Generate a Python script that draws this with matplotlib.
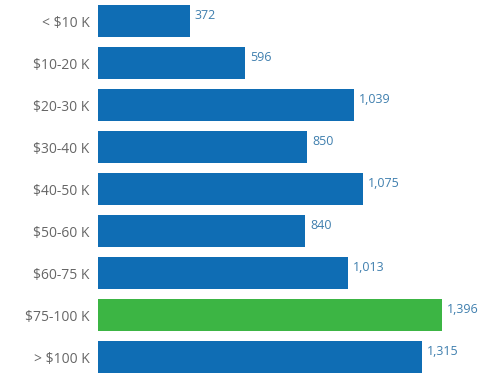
import matplotlib.pyplot as plt

# data
categories = ['< $10 K', '$10-20 K', '$20-30 K', '$30-40 K', '$40-50 K',
              '$50-60 K', '$60-75 K', '$75-100 K', '> $100 K']
values = [372, 596, 1039, 850, 1075, 840, 1013, 1396, 1315]
value_labels = ['372', '596', '1,039', '850', '1,075', '840', '1,013', '1,396', '1,315']
highlight = '$75-100 K'

blue = '#0f6db4'
green = '#3cb544'
colors = [green if c == highlight else blue for c in categories]

fig = plt.figure(figsize=(4.91, 3.73), dpi=100)
ax = fig.add_axes([98 / 491, -5 / 373, 393 / 491, 378 / 373])

y = list(range(len(categories)))
ax.barh(y, values, height=0.78, color=colors)
ax.set_ylim(len(categories) - 0.5, -0.5)
ax.set_xlim(0, 1595)

for yi, v, lab in zip(y, values, value_labels):
    ax.text(v + 20, yi - 0.12, lab, va='center', ha='left',
            fontsize=9, color='#3f7fae', family='Open Sans')

ax.set_yticks(y)
ax.set_yticklabels(categories, fontsize=10, color='#666666', family='Open Sans')
ax.tick_params(axis='y', length=0, pad=6)
ax.set_xticks([])
for s in ax.spines.values():
    s.set_visible(False)

fig.savefig('out.png', dpi=100)
